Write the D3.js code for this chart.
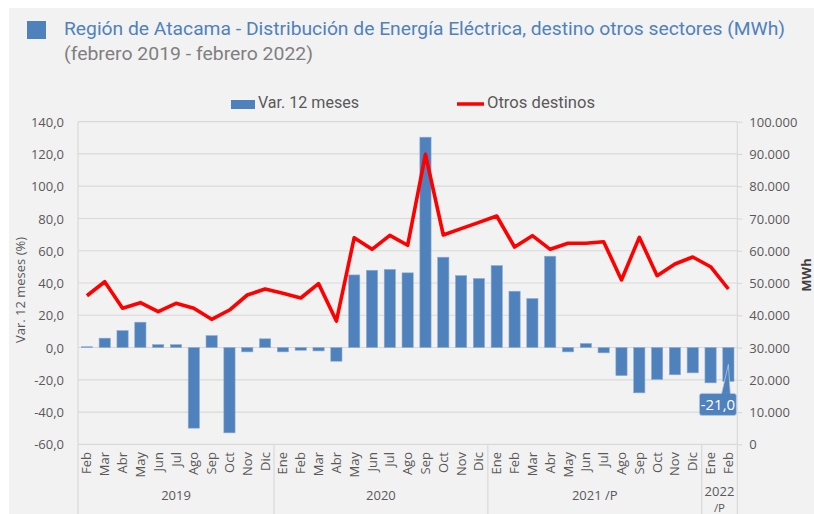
<!DOCTYPE html>
<html><head><meta charset="utf-8">
<script src="https://cdn.jsdelivr.net/npm/d3@7"></script>
<style>body{margin:0;background:#fff}text{font-family:"Open Sans",sans-serif}</style>
</head><body><svg id="c" width="814" height="514"></svg>
<script>
const months = ["Feb","Mar","Abr","May","Jun","Jul","Ago","Sep","Oct","Nov","Dic",
  "Ene","Feb","Mar","Abr","May","Jun","Jul","Ago","Sep","Oct","Nov","Dic",
  "Ene","Feb","Mar","Abr","May","Jun","Jul","Ago","Sep","Oct","Nov","Dic",
  "Ene","Feb"];
const yearLabels = ["2019","2020","2021 /P","2022 /P"];
const yearCounts = [11,12,12,2];
const var12 = [0.5,5.8,10.5,15.7,1.8,1.8,-50.0,7.4,-52.9,-2.7,5.4,
  -2.7,-1.7,-2.1,-8.5,45.0,47.9,48.4,46.3,130.4,56.0,44.6,42.8,
  50.8,34.9,30.4,56.6,-2.7,2.5,-3.3,-17.4,-28.1,-19.8,-16.9,-15.7,
  -21.9,-21.0];
const otros = [46060,50400,42160,43900,41100,43700,42160,38750,41630,46280,48140,
  46800,45350,49800,38200,64040,60440,64780,61690,89900,64880,66850,68800,
  70770,61160,64670,60440,62300,62300,62800,50930,64160,52270,55890,58060,
  55050,48140];
const leftTicks = [140,120,100,80,60,40,20,0,-20,-40,-60];
const rightTicks = [100000,90000,80000,70000,60000,50000,40000,30000,20000,10000,0];

const loc = d3.formatLocale({decimal:",",thousands:".",grouping:[3],currency:["$",""],minus:"-"});
const fmtL = loc.format(".1f"), fmtR = loc.format(",.0f");

const svg = d3.select("#c");
const L=78, R=737.3, T=121.7, B=444.3;
svg.append("rect").attr("x",9).attr("y",8).attr("width",805).attr("height",506).attr("fill","#f2f2f2");

const x = d3.scaleBand().domain(d3.range(months.length)).range([L,R]).paddingInner(0.37).paddingOuter(0.185);
const step = (R-L)/months.length;
const yL = d3.scaleLinear().domain([-60,140]).range([B,T]);
const yR = d3.scaleLinear().domain([0,100000]).range([B,T]);

// title
svg.append("rect").attr("x",27).attr("y",21).attr("width",19).attr("height",18).attr("fill","#4f81bd");
svg.append("text").attr("x",64).attr("y",35).attr("fill","#4f81bd").style("font-family","Roboto").style("font-size","18.5px")
  .attr("textLength",721).attr("lengthAdjust","spacingAndGlyphs")
  .text("Región de Atacama - Distribución de Energía Eléctrica, destino otros sectores (MWh)");
svg.append("text").attr("x",64).attr("y",60).attr("fill","#7f7f7f").style("font-family","Roboto").style("font-size","18.5px")
  .attr("textLength",249).attr("lengthAdjust","spacingAndGlyphs")
  .text("(febrero 2019 - febrero 2022)");

// legend
svg.append("rect").attr("x",231).attr("y",100).attr("width",24).attr("height",9).attr("fill","#4f81bd");
svg.append("text").attr("x",258).attr("y",108).attr("fill","#595959").style("font-family","Roboto").style("font-size","17px")
  .attr("textLength",101).attr("lengthAdjust","spacingAndGlyphs").text("Var. 12 meses");
svg.append("line").attr("x1",457).attr("x2",484).attr("y1",104).attr("y2",104).attr("stroke","#ff0000").attr("stroke-width",3.5);
svg.append("text").attr("x",487).attr("y",108).attr("fill","#595959").style("font-family","Roboto").style("font-size","17px")
  .attr("textLength",108).attr("lengthAdjust","spacingAndGlyphs").text("Otros destinos");

// gridlines
svg.append("g").selectAll("line").data(leftTicks).join("line")
  .attr("x1",L).attr("x2",R).attr("y1",d=>yL(d)).attr("y2",d=>yL(d))
  .attr("stroke","#d9d9d9").attr("stroke-width",1.2);
// borders
svg.append("line").attr("x1",L).attr("x2",L).attr("y1",T).attr("y2",514).attr("stroke","#d9d9d9").attr("stroke-width",1.2);
svg.append("line").attr("x1",R).attr("x2",R).attr("y1",T).attr("y2",514).attr("stroke","#d9d9d9").attr("stroke-width",1.2);

// left axis
const gl = svg.append("g").attr("transform",`translate(${L-11},0)`)
  .call(d3.axisLeft(yL).tickValues(leftTicks).tickFormat(fmtL).tickSize(0));
gl.select(".domain").remove();
gl.selectAll("text").attr("fill","#595959").style("font-size","13px").attr("dy","0.35em");
// right axis
const gr = svg.append("g").attr("transform",`translate(${R},0)`)
  .call(d3.axisRight(yR).tickValues(rightTicks).tickFormat(fmtR).tickSize(5).tickPadding(7));
gr.select(".domain").remove();
gr.selectAll("line").attr("stroke","#d9d9d9").attr("stroke-width",1.2);
gr.selectAll("text").attr("fill","#595959").style("font-size","13px").attr("dy","0.35em");

// axis titles
svg.append("text").attr("transform","translate(25,290) rotate(-90)").attr("text-anchor","middle")
  .attr("fill","#595959").style("font-size","13px").text("Var. 12 meses (%)");
svg.append("text").attr("transform","translate(811,275) rotate(-90)").attr("text-anchor","middle")
  .attr("fill","#404040").style("font-size","13px").style("font-weight","bold").text("MWh");

// bars
svg.append("g").selectAll("rect").data(var12).join("rect")
  .attr("x",(d,i)=>x(i)).attr("width",x.bandwidth())
  .attr("y",d=>yL(Math.max(0,d))).attr("height",d=>Math.abs(yL(d)-yL(0)))
  .attr("fill","#4f81bd").attr("stroke","#8eacd6").attr("stroke-width",0.6);

// line
svg.append("path").datum(otros)
  .attr("d",d3.line().x((d,i)=>x(i)+x.bandwidth()/2).y(d=>yR(d)))
  .attr("fill","none").attr("stroke","#ff0000").attr("stroke-width",3.6).attr("stroke-linejoin","round");

// month labels
svg.append("g").selectAll("text").data(months).join("text")
  .attr("transform",(d,i)=>`translate(${x(i)+x.bandwidth()/2+4.5},452) rotate(-90)`)
  .attr("text-anchor","end").attr("fill","#595959").style("font-size","13px").text(d=>d);

// year groups
let start=0;
yearLabels.forEach((lab,k)=>{
  const x0 = L+start*step, x1 = L+(start+yearCounts[k])*step;
  if(start>0) svg.append("line").attr("x1",x0).attr("x2",x0).attr("y1",B).attr("y2",514).attr("stroke","#d9d9d9").attr("stroke-width",1.2);
  const cx=(x0+x1)/2;
  if(yearCounts[k]<3){
    const parts=lab.split(" ");
    svg.append("text").attr("x",cx).attr("y",496).attr("text-anchor","middle").attr("fill","#595959").style("font-size","13px").text(parts[0]);
    svg.append("text").attr("x",cx).attr("y",512).attr("text-anchor","middle").attr("fill","#595959").style("font-size","11.5px").text(parts[1]);
  } else {
    svg.append("text").attr("x",cx).attr("y",500).attr("text-anchor","middle").attr("fill","#595959").style("font-size","13px").text(lab);
  }
  start+=yearCounts[k];
});

// callout for last bar
const li = var12.length-1, lv = var12[li];
const xc = x(li)+x.bandwidth()/2;
const bw=37, bh=22, bx = xc-10.5-bw/2, by = yL(lv)+12;
svg.append("path").attr("d",`M${xc-7},${by+1} L${xc},${yL(lv/2)} L${xc+2},${by+1} Z`)
  .attr("fill","#4f81bd").attr("stroke","#b8c9e0").attr("stroke-width",0.8);
svg.append("rect").attr("x",bx).attr("y",by).attr("width",bw).attr("height",bh).attr("rx",2.5)
  .attr("fill","#4f81bd").attr("stroke","#b8c9e0").attr("stroke-width",0.8);
svg.append("rect").attr("x",xc-6.4).attr("y",by-0.5).attr("width",8).attr("height",2).attr("fill","#4f81bd");
svg.append("text").attr("x",bx+bw/2).attr("y",by+16.5).attr("text-anchor","middle").attr("fill","#fff")
  .style("font-size","15px").text(fmtL(lv));
</script></body></html>
